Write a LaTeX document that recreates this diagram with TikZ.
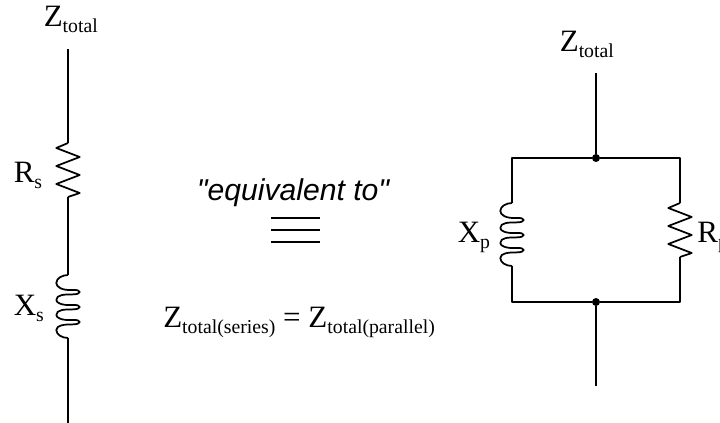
\documentclass[tikz,border=0pt]{standalone}
\usepackage{fontspec}
\setmainfont{Liberation Serif}
\newfontfamily\labelfont{Liberation Sans}
\newcommand{\mainsize}{\fontsize{23.3}{26}\selectfont}
\newcommand{\subtext}[1]{\raisebox{-4.6pt}{\fontsize{14.8}{16}\selectfont #1}}

\begin{document}
\begin{tikzpicture}[x=0.75pt, y=-0.75pt]
	\tikzstyle{wire} = [line width=1.3pt, line join=round]
	\tikzstyle{term} = [anchor=base west, inner sep=0pt, font=\mainsize]
	\tikzstyle{dot} = [circle, fill=black, inner sep=0pt, minimum size=6pt]
	\tikzset{
		resistor/.pic={\draw [wire] (0,0) -- (-11.7,5) -- (11.7,14) -- (-11.7,23) -- (11.7,32) -- (-11.7,41) -- (11.7,50) -- (0,54);},
		inductor/.pic={\draw [wire] (0,0) .. controls (-6,0) and (-11.7,3.5) .. (-11.7,8)
			.. controls (-11.7,12) and (-6,15.5) .. (4,15) .. controls (9,14.7) and (11.7,15.5) .. (11.7,17)
			.. controls (11.7,18.5) and (9,19.4) .. (4,19.4) .. controls (-3,19.4) and (-11.7,19.5) .. (-11.7,25)
			.. controls (-11.7,28) and (-6,30.5) .. (4,30) .. controls (9,29.7) and (11.7,30.5) .. (11.7,32)
			.. controls (11.7,33.5) and (9,34.4) .. (4,34.4) .. controls (-3,34.4) and (-11.7,34.5) .. (-11.7,40)
			.. controls (-11.7,43) and (-6,45.5) .. (4,45) .. controls (9,44.7) and (11.7,45.5) .. (11.7,47)
			.. controls (11.7,48.5) and (9,49.4) .. (4,49.4) .. controls (-3,49.4) and (-11.7,50) .. (-11.7,55)
			.. controls (-11.7,59.5) and (-6,63) .. (0,63);}
	}
	\useasboundingbox (0,0) rectangle (720,422);
	% series branch
	\node (zLeft) [term] at (43.5,26) {Z\subtext{total}};
	\coordinate (leftTop) at (68,49);
	\coordinate (rsTop) at (68,143);
	\coordinate (rsBot) at (68,197);
	\coordinate (xsTop) at (68,275);
	\coordinate (xsBot) at (68,338);
	\coordinate (leftEnd) at (68,423);
	\node (rsLabel) [term] at (13.5,182.7) {R\subtext{s}};
	\node (xsLabel) [term] at (13.5,315) {X\subtext{s}};
	\pic at (rsTop) {resistor};
	\pic at (xsTop) {inductor};
	\draw [wire] (leftTop) -- (rsTop);
	\draw [wire] (rsBot) -- (xsTop);
	\draw [wire] (xsBot) -- (leftEnd);
	% middle text
	\node (equivText) [anchor=base, inner sep=0pt, font=\labelfont\itshape\fontsize{22.6}{24}\selectfont] at (293,200.7) {"equivalent to"};
	\coordinate (eqA) at (271,218.3);
	\coordinate (eqB) at (320,218.3);
	\coordinate (eqC) at (271,230.3);
	\coordinate (eqD) at (320,230.3);
	\coordinate (eqE) at (271,242.3);
	\coordinate (eqF) at (320,242.3);
	\draw [wire] (eqA) -- (eqB);
	\draw [wire] (eqC) -- (eqD);
	\draw [wire] (eqE) -- (eqF);
	\node (equation) [term] at (163,327) {Z\subtext{total(series)} = Z\subtext{total(parallel)}};
	% parallel branch
	\node (zRight) [term] at (559.5,51.7) {Z\subtext{total}};
	\coordinate (rightTop) at (596,73);
	\node (topDot) [dot] at (596,158) {};
	\node (botDot) [dot] at (596,302) {};
	\coordinate (rightEnd) at (596,386);
	\coordinate (xpTop) at (512,203);
	\coordinate (xpBot) at (512,266);
	\coordinate (rpTop) at (680,203);
	\coordinate (rpBot) at (680,257);
	\node (xpLabel) [term] at (457.5,242.7) {X\subtext{p}};
	\node (rpLabel) [term] at (697,242.7) {R\subtext{p}};
	\pic at (xpTop) {inductor};
	\pic at (rpTop) {resistor};
	\draw [wire] (rightTop) -- (topDot);
	\draw [wire] (botDot) -- (rightEnd);
	\draw [wire] (xpTop) -- (xpTop |- topDot) -- (topDot) -- (topDot -| rpTop) -- (rpTop);
	\draw [wire] (xpBot) -- (xpBot |- botDot) -- (botDot) -- (botDot -| rpBot) -- (rpBot);
\end{tikzpicture}
\end{document}
